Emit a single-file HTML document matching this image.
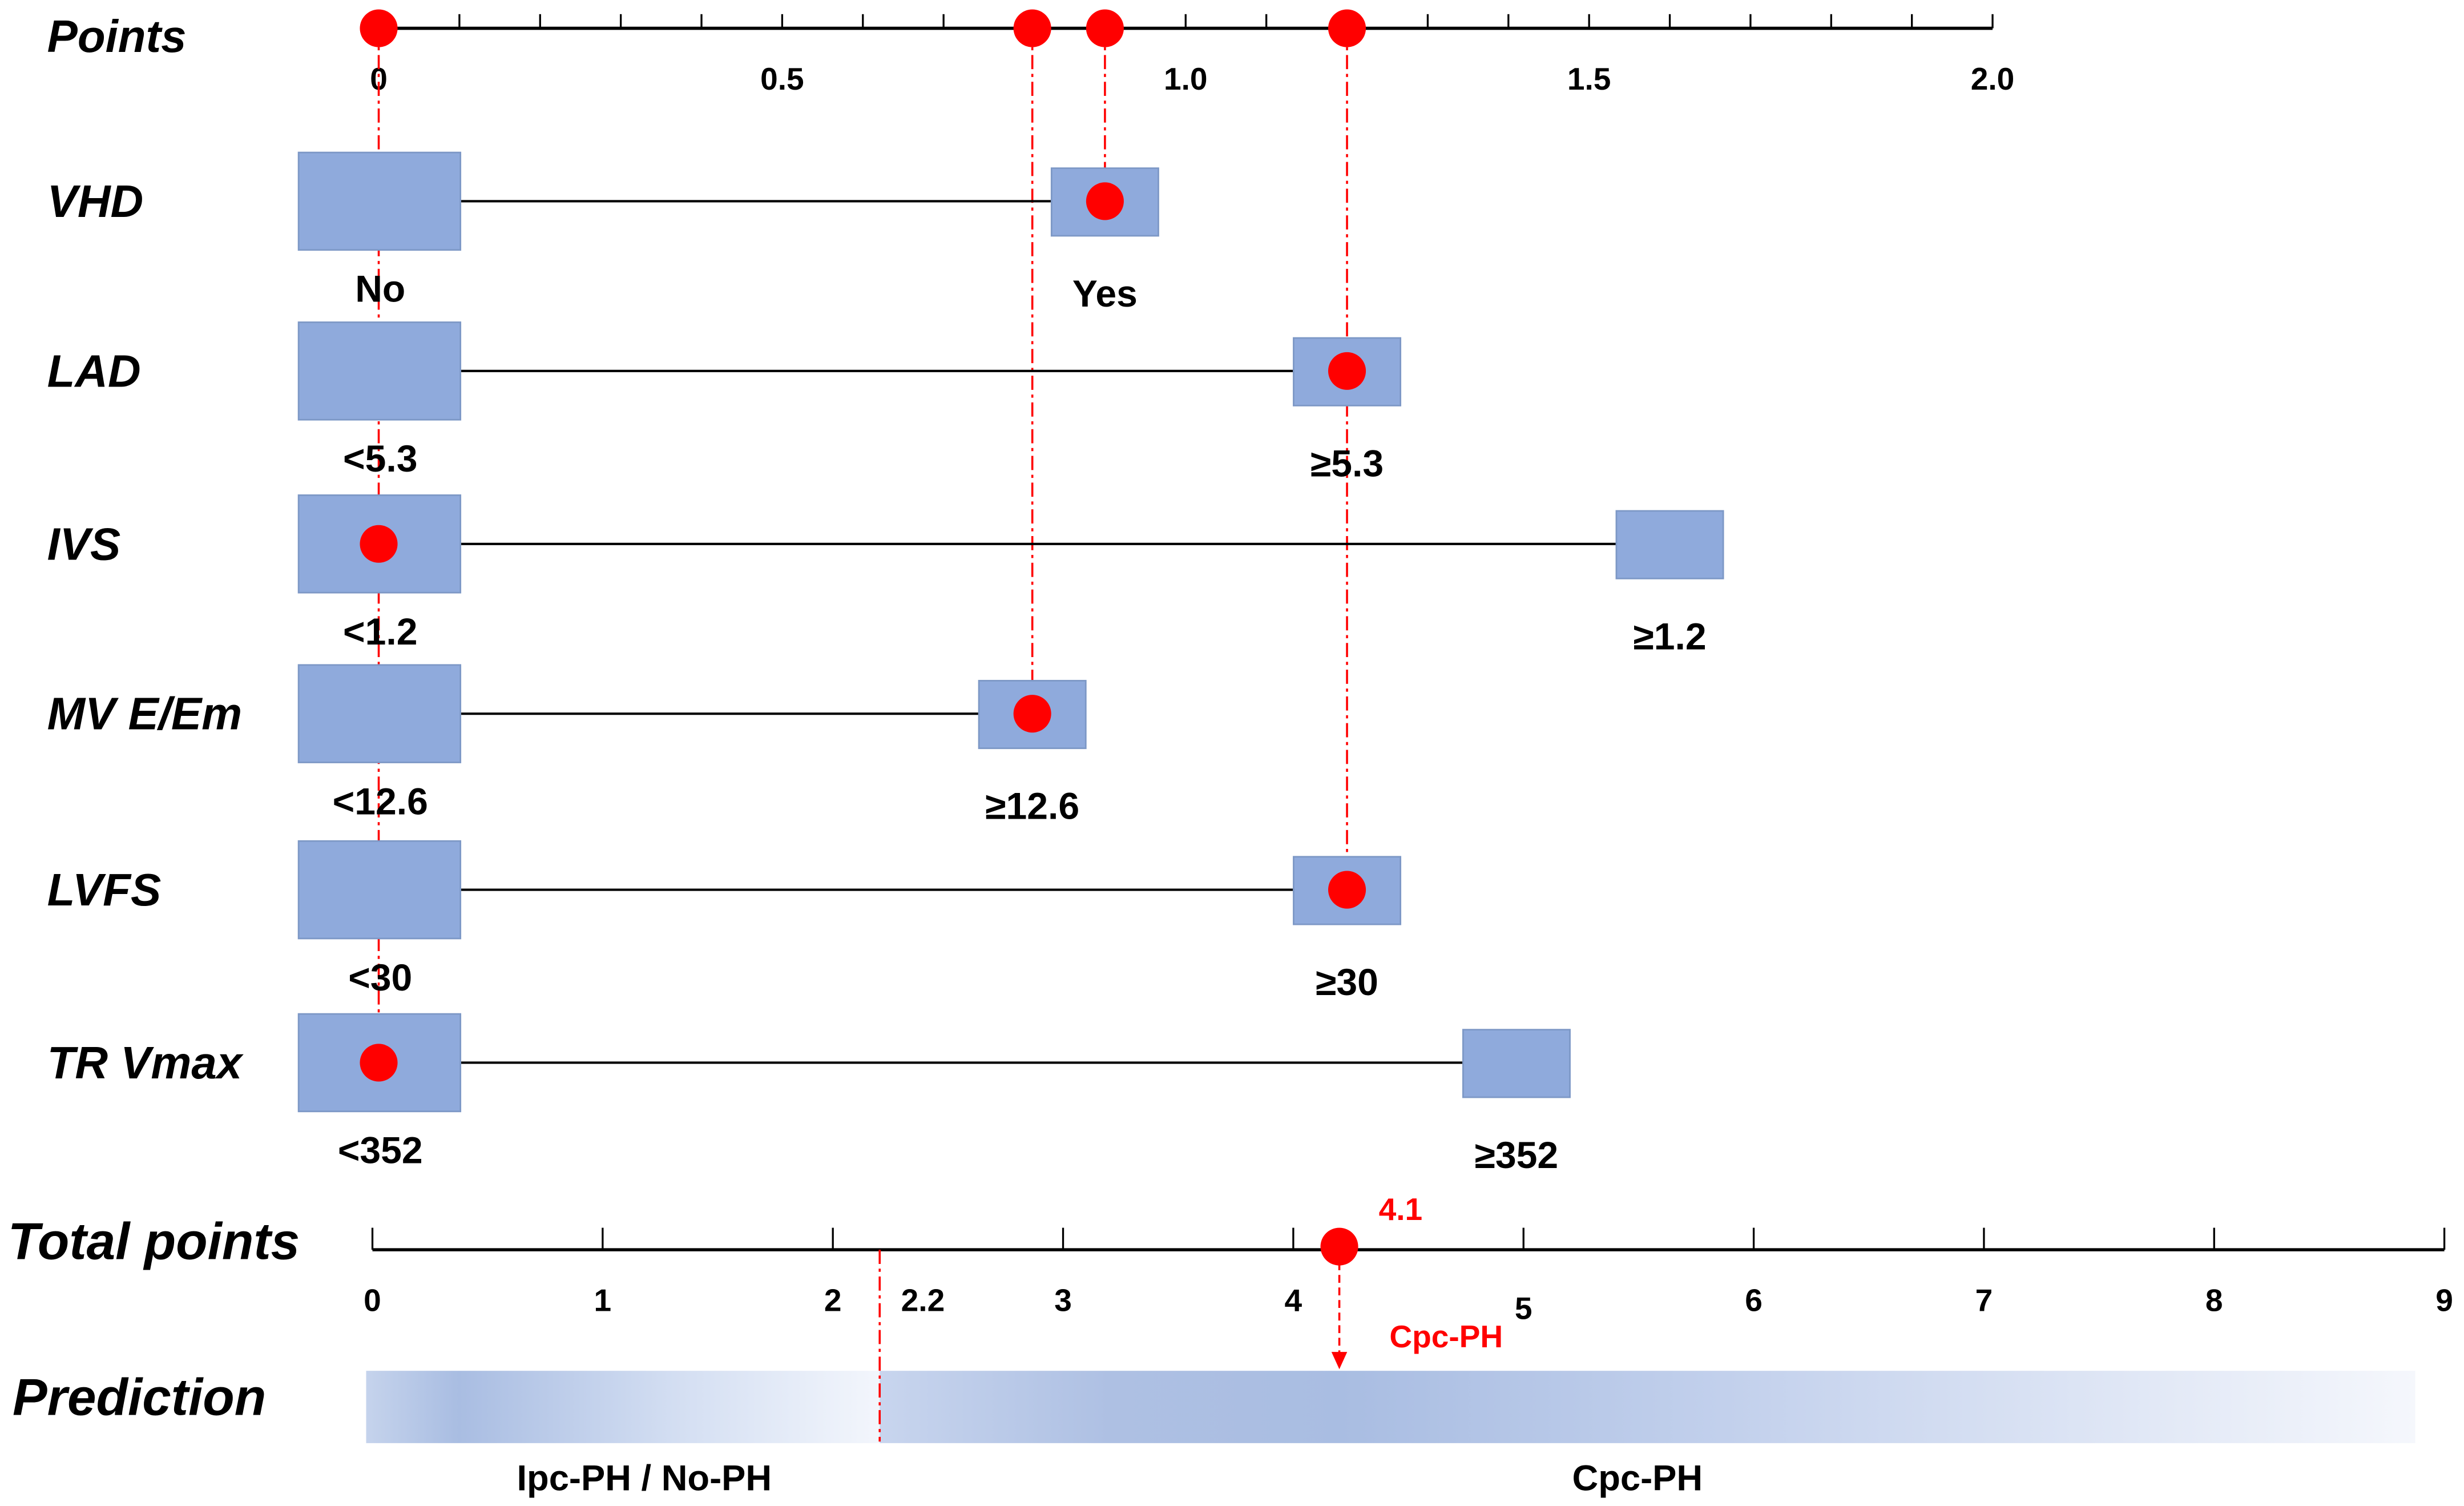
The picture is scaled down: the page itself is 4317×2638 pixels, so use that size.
<!DOCTYPE html>
<html><head><meta charset="utf-8"><style>
html,body{margin:0;padding:0;background:#fff;width:4317px;height:2638px;overflow:hidden}
svg{display:block}
text{font-family:"Liberation Sans",Arial,sans-serif;font-weight:bold}
</style></head><body>
<svg id="chart" width="4317" height="2638" viewBox="0 0 1568 958" preserveAspectRatio="none" xmlns="http://www.w3.org/2000/svg">
<defs>
<linearGradient id="g1" x1="0" x2="1" y1="0" y2="0">
<stop offset="0" stop-color="#c5d3ec"/><stop offset="0.18" stop-color="#a9bde2"/><stop offset="0.6" stop-color="#d3def2"/><stop offset="1" stop-color="#f3f6fc"/>
</linearGradient>
<linearGradient id="g2" x1="0" x2="1" y1="0" y2="0">
<stop offset="0" stop-color="#c8d5ee"/><stop offset="0.15" stop-color="#aec0e3"/><stop offset="0.3" stop-color="#a9bde2"/><stop offset="0.55" stop-color="#c2d0ec"/><stop offset="1" stop-color="#f5f7fc"/>
</linearGradient>
</defs>
<g id="layer"></g>
</svg>
<script>
const pointTicks=[0,0.1,0.2,0.3,0.4,0.5,0.6,0.7,0.8,0.9,1.0,1.1,1.2,1.3,1.4,1.5,1.6,1.7,1.8,1.9,2.0];
const pointLabels=["0","0.5","1.0","1.5","2.0"];
const pointLabelVals=[0,0.5,1.0,1.5,2.0];
const variables=["VHD","LAD","IVS","MV E/Em","LVFS","TR Vmax"];
const lowLabels=["No","<5.3","<1.2","<12.6","<30","<352"];
const highLabels=["Yes","≥5.3","≥1.2","≥12.6","≥30","≥352"];
const highPoints=[0.90,1.20,1.60,0.81,1.20,1.41];
const selectedHigh=[true,true,false,true,true,false];
const totalTicks=[0,1,2,3,4,5,6,7,8,9];
const totalMarker=4.2;
const totalLabel="4.1";
const cutoff=2.2;

const NS="http://www.w3.org/2000/svg";
const layer=document.getElementById('layer');
function px(v){return 241+v*513.5;}
function tx(v){return 237+v*146.5;}
const rowY=[128,236,346,454,566,676];
function mk(tag,attrs,txt){const e=document.createElementNS(NS,tag);for(const k in attrs)e.setAttribute(k,attrs[k]);if(txt!==undefined)e.textContent=txt;layer.appendChild(e);return e;}

let e;
e=mk('text',{x:30,y:33,'font-size':29,'font-style':'italic'},'Points');


e=mk('line',{x1:px(0),x2:px(2),y1:18,y2:18,stroke:'#000','stroke-width':2});


pointTicks.forEach(v=>{e=mk('line',{x1:px(v),x2:px(v),y1:9,y2:18,stroke:'#000','stroke-width':1.2});

});
pointLabelVals.forEach((v,i)=>{e=mk('text',{x:px(v),y:57,'font-size':20,'text-anchor':'middle'},pointLabels[i]);

});

const chosen=variables.map((_,i)=>selectedHigh[i]?highPoints[i]:0);
const guideEnds={};
chosen.forEach((v,i)=>{const k=v.toFixed(2);guideEnds[k]=Math.max(guideEnds[k]||0,rowY[i]);});
Object.keys(guideEnds).forEach(k=>{const v=parseFloat(k);
e=mk('line',{x1:px(v),x2:px(v),y1:18,y2:guideEnds[k],stroke:'#f00','stroke-width':1.3,'stroke-dasharray':'9 3 2 3'});

});

variables.forEach((name,i)=>{
 const y=rowY[i];
 e=mk('text',{x:30,y:y+10,'font-size':29,'font-style':'italic'},name);
 
 
 const hx=px(highPoints[i]);
 e=mk('line',{x1:293,x2:hx-34,y1:y,y2:y,stroke:'#000','stroke-width':1.5});
 
 
 e=mk('rect',{x:190,y:y-31,width:103,height:62,fill:'#8faadc',stroke:'#7d98c6','stroke-width':1});
 
 
 e=mk('rect',{x:hx-34,y:y-21,width:68,height:43,fill:'#8faadc',stroke:'#7d98c6','stroke-width':1});
 
 
 e=mk('text',{x:242,y:y+64,'font-size':24,'text-anchor':'middle'},lowLabels[i]);
 
 
 e=mk('text',{x:hx,y:y+67,'font-size':24,'text-anchor':'middle'},highLabels[i]);
 
 
 e=mk('ellipse',{cx:px(chosen[i]),cy:y,rx:12,ry:12,fill:'#f00'});
 
 
});
Object.keys(guideEnds).forEach(k=>{e=mk('ellipse',{cx:px(parseFloat(k)),cy:18,rx:12,ry:12,fill:'#f00'});

});

e=mk('text',{x:5,y:801,'font-size':33,'font-style':'italic'},'Total points');


e=mk('line',{x1:tx(0),x2:tx(9),y1:795,y2:795,stroke:'#000','stroke-width':2});


totalTicks.forEach(v=>{e=mk('line',{x1:tx(v),x2:tx(v),y1:781,y2:795,stroke:'#000','stroke-width':1.2});


e=mk('text',{x:tx(v),y:v===5?839:834,'font-size':20,'text-anchor':'middle'},String(v));

});
e=mk('text',{x:tx(cutoff)+28,y:834,'font-size':20,'text-anchor':'middle'},String(cutoff));



const cx=tx(cutoff)+0.5;
e=mk('rect',{x:233,y:872,width:cx-233,height:46,fill:'url(#g1)'});


e=mk('rect',{x:cx,y:872,width:1537-cx,height:46,fill:'url(#g2)'});


e=mk('line',{x1:cx,x2:cx,y1:795,y2:917,stroke:'#f00','stroke-width':1.3,'stroke-dasharray':'9 3 2 3'});


e=mk('text',{x:8,y:900,'font-size':33,'font-style':'italic'},'Prediction');


e=mk('text',{x:410,y:948,'font-size':23,'text-anchor':'middle'},'Ipc-PH / No-PH');


e=mk('text',{x:1042,y:948,'font-size':23,'text-anchor':'middle'},'Cpc-PH');



const mx=tx(totalMarker);
e=mk('line',{x1:mx,x2:mx,y1:795,y2:862,stroke:'#f00','stroke-width':1.3,'stroke-dasharray':'5 3'});


e=mk('polygon',{points:`${mx-5},860 ${mx+5},860 ${mx},871`,fill:'#f00'});


e=mk('ellipse',{cx:mx,cy:793,rx:12,ry:12,fill:'#f00'});


e=mk('text',{x:mx+39,y:776,'font-size':20,'fill':'#f00','text-anchor':'middle'},totalLabel);


e=mk('text',{x:mx+68,y:857,'font-size':20,'fill':'#f00','text-anchor':'middle'},'Cpc-PH');


</script>
</body></html>
